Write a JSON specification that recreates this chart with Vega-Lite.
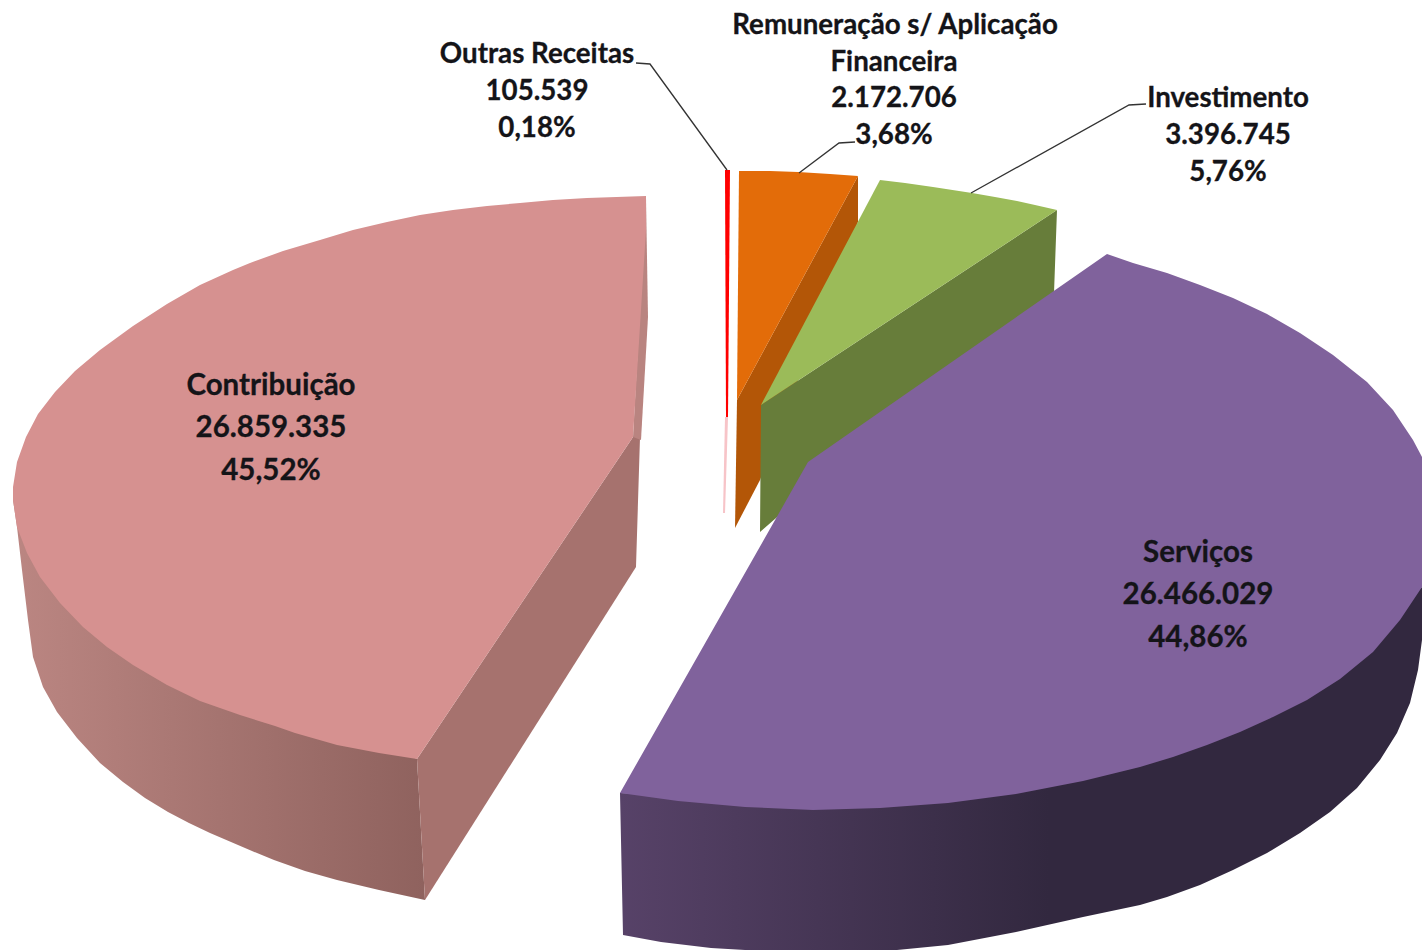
{"$schema":"https://vega.github.io/schema/vega-lite/v6.json","width":1422,"height":950,"padding":0,"autosize":{"type":"fit","contains":"padding"},"background":"white","config":{"view":{"stroke":null}},
"datasets":{
"contribWallOuter":[{"x":13,"y":487},{"x":13,"y":500},{"x":17,"y":527},{"x":22,"y":570},{"x":28,"y":620},{"x":33,"y":657},{"x":43,"y":687},{"x":57,"y":712},{"x":77,"y":738},{"x":100,"y":763},{"x":123,"y":782},{"x":145,"y":798},{"x":168,"y":812},{"x":189,"y":823},{"x":210,"y":833},{"x":231,"y":842},{"x":252,"y":851},{"x":274,"y":860},{"x":305,"y":871},{"x":337,"y":880},{"x":358,"y":885},{"x":379,"y":890},{"x":402,"y":895},{"x":425,"y":900},{"x":417,"y":759},{"x":300,"y":700},{"x":100,"y":560}],
"contribWallInner":[{"x":417,"y":759},{"x":633,"y":437},{"x":640,"y":437},{"x":636,"y":567},{"x":425,"y":900}],
"contribSliver":[{"x":646,"y":198},{"x":648,"y":317},{"x":641,"y":440},{"x":633,"y":437}],
"contribTop":[{"x":646,"y":196},{"x":587,"y":198},{"x":553,"y":200},{"x":520,"y":203},{"x":487,"y":206},{"x":453,"y":210},{"x":420,"y":215},{"x":387,"y":222},{"x":353,"y":230},{"x":320,"y":240},{"x":283,"y":251},{"x":250,"y":263},{"x":233,"y":270},{"x":200,"y":285},{"x":167,"y":304},{"x":133,"y":326},{"x":100,"y":350},{"x":75,"y":371},{"x":55,"y":392},{"x":38,"y":414},{"x":26,"y":437},{"x":17,"y":462},{"x":13,"y":487},{"x":13,"y":500},{"x":17,"y":527},{"x":27,"y":553},{"x":40,"y":577},{"x":60,"y":603},{"x":83,"y":627},{"x":107,"y":647},{"x":133,"y":665},{"x":167,"y":685},{"x":200,"y":701},{"x":240,"y":715},{"x":275,"y":726},{"x":295,"y":733},{"x":316,"y":739},{"x":337,"y":745},{"x":358,"y":749},{"x":379,"y":753},{"x":398,"y":756},{"x":417,"y":759},{"x":633,"y":437},{"x":646,"y":230}],
"outrasPale":[{"x":725,"y":417},{"x":728,"y":417},{"x":725,"y":513},{"x":723,"y":513}],
"outrasTop":[{"x":725,"y":170},{"x":730,"y":170},{"x":728,"y":417},{"x":726,"y":417}],
"remunWall":[{"x":858,"y":176},{"x":858,"y":222},{"x":760,"y":480},{"x":735,"y":528},{"x":737,"y":400}],
"remunTop":[{"x":739,"y":171},{"x":770,"y":171},{"x":798,"y":172},{"x":830,"y":174},{"x":858,"y":176},{"x":737,"y":400}],
"investWall":[{"x":1057,"y":210},{"x":1054,"y":293},{"x":900,"y":410},{"x":760,"y":532},{"x":761,"y":405}],
"investTop":[{"x":880,"y":180},{"x":905,"y":183},{"x":933,"y":187},{"x":972,"y":193},{"x":995,"y":197},{"x":1017,"y":201},{"x":1035,"y":205},{"x":1057,"y":210},{"x":761,"y":405}],
"servicosWall":[{"x":620,"y":793},{"x":623,"y":935},{"x":661,"y":942},{"x":711,"y":948},{"x":745,"y":950},{"x":897,"y":950},{"x":948,"y":945},{"x":1016,"y":932},{"x":1083,"y":917},{"x":1140,"y":905},{"x":1167,"y":897},{"x":1200,"y":885},{"x":1233,"y":870},{"x":1267,"y":853},{"x":1300,"y":833},{"x":1330,"y":812},{"x":1357,"y":788},{"x":1380,"y":760},{"x":1397,"y":733},{"x":1410,"y":703},{"x":1418,"y":670},{"x":1422,"y":640},{"x":1422,"y":587},{"x":1240,"y":720},{"x":825,"y":800}],
"servicosTop":[{"x":1107,"y":254},{"x":808,"y":462},{"x":620,"y":793},{"x":678,"y":801},{"x":745,"y":807},{"x":813,"y":810},{"x":880,"y":808},{"x":948,"y":803},{"x":1016,"y":794},{"x":1083,"y":781},{"x":1140,"y":767},{"x":1173,"y":757},{"x":1207,"y":745},{"x":1240,"y":732},{"x":1273,"y":717},{"x":1307,"y":700},{"x":1340,"y":679},{"x":1373,"y":652},{"x":1400,"y":620},{"x":1422,"y":587},{"x":1422,"y":457},{"x":1413,"y":440},{"x":1393,"y":410},{"x":1367,"y":382},{"x":1333,"y":355},{"x":1300,"y":333},{"x":1267,"y":314},{"x":1233,"y":298},{"x":1200,"y":285},{"x":1167,"y":273},{"x":1133,"y":263}],
"leaderOutras":[{"x":636,"y":63},{"x":650,"y":64},{"x":727,"y":170}],
"leaderRemun":[{"x":855,"y":142},{"x":839,"y":143},{"x":799,"y":173}],
"leaderInvest":[{"x":1146,"y":104},{"x":1129,"y":105},{"x":971,"y":193}],
"labelsOuter":[
{"x":537,"y":54.5,"text":"Outras Receitas"},{"x":537,"y":91.5,"text":"105.539"},{"x":537,"y":128.5,"text":"0,18%"},
{"x":895,"y":25.5,"text":"Remuneração s/ Aplicação"},{"x":894,"y":62.5,"text":"Financeira"},{"x":894,"y":98.5,"text":"2.172.706"},{"x":894,"y":135.5,"text":"3,68%"},
{"x":1228,"y":98.5,"text":"Investimento"},{"x":1228,"y":135.5,"text":"3.396.745"},{"x":1228,"y":172.5,"text":"5,76%"}],
"labelsInner":[
{"x":271,"y":385.5,"text":"Contribuição"},{"x":271,"y":427.5,"text":"26.859.335"},{"x":271,"y":470.5,"text":"45,52%"},
{"x":1198,"y":552.5,"text":"Serviços"},{"x":1198,"y":594.5,"text":"26.466.029"},{"x":1198,"y":637.5,"text":"44,86%"}]
},
"encoding":{"x":{"field":"x","type":"quantitative","axis":null,"scale":{"domain":[0,1422],"nice":false,"zero":false}},"y":{"field":"y","type":"quantitative","axis":null,"scale":{"domain":[950,0],"nice":false,"zero":false}}},
"layer":[
{"data":{"name":"contribWallOuter"},"mark":{"type":"line","fill":{"gradient":"linear","x1":0,"y1":0,"x2":1,"y2":0,"stops":[{"offset":0,"color":"#bb8682"},{"offset":1,"color":"#8f625e"}]},"strokeWidth":0},"encoding":{"order":{"value":null}}},
{"data":{"name":"contribWallInner"},"mark":{"type":"line","fill":"#a6726e","strokeWidth":0},"encoding":{"order":{"value":null}}},
{"data":{"name":"contribSliver"},"mark":{"type":"line","fill":"#b98480","strokeWidth":0},"encoding":{"order":{"value":null}}},
{"data":{"name":"contribTop"},"mark":{"type":"line","fill":"#d69190","strokeWidth":0},"encoding":{"order":{"value":null}}},
{"data":{"name":"outrasPale"},"mark":{"type":"line","fill":"#f7c4c8","strokeWidth":0},"encoding":{"order":{"value":null}}},
{"data":{"name":"outrasTop"},"mark":{"type":"line","fill":"#ff0000","strokeWidth":0},"encoding":{"order":{"value":null}}},
{"data":{"name":"remunWall"},"mark":{"type":"line","fill":"#b35607","strokeWidth":0},"encoding":{"order":{"value":null}}},
{"data":{"name":"remunTop"},"mark":{"type":"line","fill":"#e36c09","strokeWidth":0},"encoding":{"order":{"value":null}}},
{"data":{"name":"investWall"},"mark":{"type":"line","fill":"#677d3a","strokeWidth":0},"encoding":{"order":{"value":null}}},
{"data":{"name":"investTop"},"mark":{"type":"line","fill":"#9bbb59","strokeWidth":0},"encoding":{"order":{"value":null}}},
{"data":{"name":"servicosWall"},"mark":{"type":"line","fill":{"gradient":"linear","x1":0,"y1":0,"x2":1,"y2":0,"stops":[{"offset":0,"color":"#574268"},{"offset":0.535,"color":"#32283f"},{"offset":1,"color":"#32283f"}]},"strokeWidth":0},"encoding":{"order":{"value":null}}},
{"data":{"name":"servicosTop"},"mark":{"type":"line","fill":"#80629c","strokeWidth":0},"encoding":{"order":{"value":null}}},
{"data":{"name":"leaderOutras"},"mark":{"type":"line","color":"#333333","strokeWidth":1.3},"encoding":{"order":{"value":null}}},
{"data":{"name":"leaderRemun"},"mark":{"type":"line","color":"#333333","strokeWidth":1.3},"encoding":{"order":{"value":null}}},
{"data":{"name":"leaderInvest"},"mark":{"type":"line","color":"#333333","strokeWidth":1.3},"encoding":{"order":{"value":null}}},
{"data":{"name":"labelsOuter"},"mark":{"type":"text","font":"Lato","fontWeight":"bold","fontSize":27.7,"color":"#141418","stroke":"#141418","strokeWidth":0.3,"align":"center","baseline":"middle"},"encoding":{"text":{"field":"text","type":"nominal"}}},
{"data":{"name":"labelsInner"},"mark":{"type":"text","font":"Lato","fontWeight":"bold","fontSize":29.5,"color":"#141418","stroke":"#141418","strokeWidth":0.3,"align":"center","baseline":"middle"},"encoding":{"text":{"field":"text","type":"nominal"}}}
]}
